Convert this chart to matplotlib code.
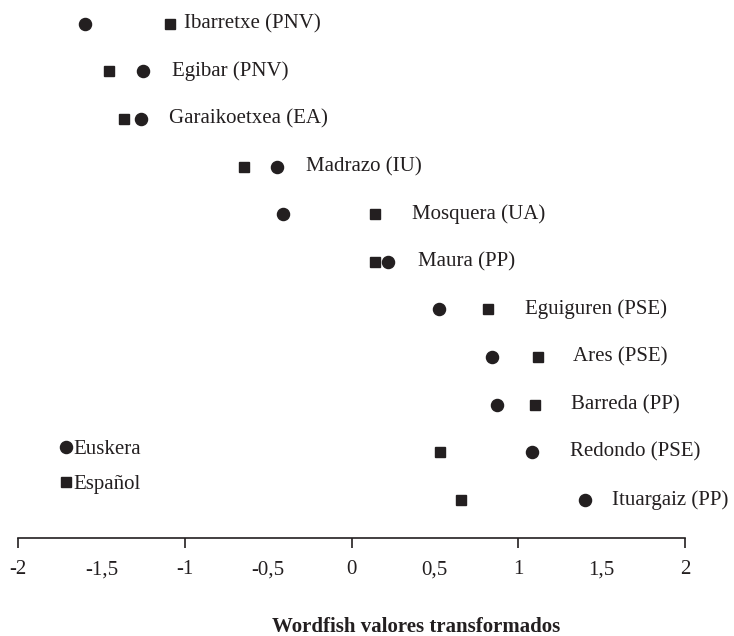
import matplotlib
matplotlib.use("Agg")
import matplotlib.pyplot as plt
from matplotlib.lines import Line2D

plt.rcParams['font.family'] = ['Liberation Serif', 'DejaVu Serif']

names = ["Ibarretxe (PNV)", "Egibar (PNV)", "Garaikoetxea (EA)", "Madrazo (IU)",
         "Mosquera (UA)", "Maura (PP)", "Eguiguren (PSE)", "Ares (PSE)",
         "Barreda (PP)", "Redondo (PSE)", "Ituargaiz (PP)"]
euskera = [-1.60, -1.252, -1.262, -0.448, -0.412, 0.218, 0.524, 0.844, 0.874, 1.084, 1.398]
espanol = [-1.088, -1.456, -1.362, -0.642, 0.138, 0.138, 0.818, 1.118, 1.098, 0.528, 0.658]
# label offsets from the rightmost marker, in points
label_offsets = [10, 21, 20, 21, 27, 22, 27, 25, 26, 27, 20]
tick_pos = [-2, -1.5, -1, -0.5, 0, 0.5, 1, 1.5, 2]
tick_labels = ["-2", "-1,5", "-1", "-0,5", "0", "0,5", "1", "1,5", "2"]

fig = plt.figure(figsize=(7.34, 6.36), dpi=100)
ax = fig.add_axes([18/734, 1 - 538/636, (685-18)/734, 538/636])

n = len(names)
ys = [n - i for i in range(n)]
ax.plot(euskera, ys, 'o', color='#231f20', markersize=8.7, linestyle='none', clip_on=False)
ax.plot(espanol, ys, 's', color='#231f20', markersize=7.9, linestyle='none', clip_on=False)

for name, e, s, y, off in zip(names, euskera, espanol, ys, label_offsets):
    ax.annotate(name, xy=(max(e, s), y), xytext=(off, 0), textcoords='offset points',
                ha='left', va='center', fontsize=15, color='#231f20')

ax.set_xlim(-2, 2)
ax.set_ylim(0.2, 11.5)
ax.xaxis.remove_overlapping_locs = False
ax.set_xticks([-2, -1, 0, 1, 2])
ax.set_xticklabels([])
ax.set_xticks(tick_pos, minor=True)
ax.set_xticklabels(tick_labels, minor=True, fontsize=15, color='#231f20')
ax.tick_params(axis='x', which='major', length=7, width=1.2, direction='out', color='#231f20')
ax.tick_params(axis='x', which='minor', length=0, pad=16)
ax.set_yticks([])
for sp in ['top', 'right', 'left']:
    ax.spines[sp].set_visible(False)
ax.spines['bottom'].set_linewidth(1.2)
ax.spines['bottom'].set_color('#231f20')

handles = [Line2D([], [], marker='o', color='#231f20', linestyle='none', markersize=8.7),
           Line2D([], [], marker='s', color='#231f20', linestyle='none', markersize=7.9)]
fig.legend(handles, ["Euskera", "Español"], loc='upper left',
           bbox_to_anchor=(49/734, 1 - 429/636), frameon=False, fontsize=15,
           handlelength=0.6, handletextpad=0.08, labelspacing=0.75, borderpad=0,
           labelcolor='#231f20')

fig.text(416/734, 1 - 627/636, "Wordfish valores transformados", ha='center', va='center',
         fontsize=15, fontweight='bold', color='#231f20')

fig.savefig("out.png", dpi=100)
